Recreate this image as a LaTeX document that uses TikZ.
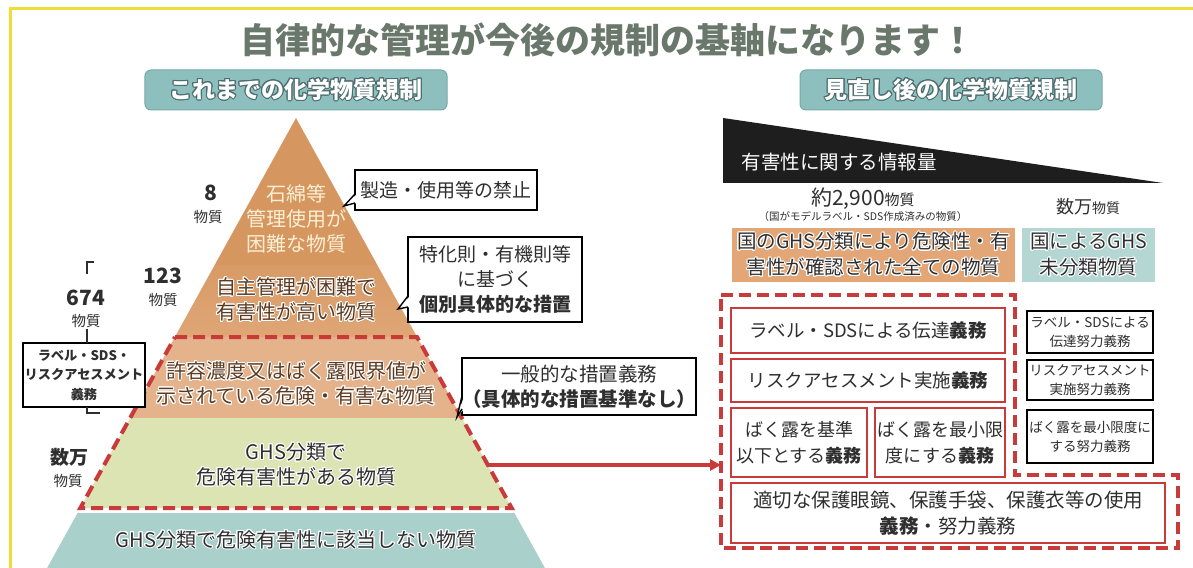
\documentclass[tikz,border=0pt]{standalone}
\usepackage{fontspec}
\setmainfont{Noto Sans CJK JP}
\usepackage[copies]{contour}
\usetikzlibrary{arrows.meta,calc}
\contourlength{1bp}
\contournumber{16}
\newcommand{\halo}[1]{\contour{white}{#1}}
\definecolor{frameyellow}{HTML}{EEDD33}
\definecolor{titlegray}{HTML}{6A786C}
\definecolor{hdrfill}{HTML}{8DBFBE}
\definecolor{hdrdraw}{HTML}{76A9A8}
\definecolor{hdrline}{HTML}{4E6E6E}
\definecolor{tA}{HTML}{D5965F}
\definecolor{tB}{HTML}{DFA676}
\definecolor{tC}{HTML}{E4B38C}
\definecolor{tD}{HTML}{DCE4B3}
\definecolor{tE}{HTML}{A9D0CB}
\definecolor{creamtext}{HTML}{FBF0D5}
\definecolor{browntext}{HTML}{5B3A22}
\definecolor{redc}{HTML}{C93A3B}
\definecolor{wedgec}{HTML}{1E1E1E}
\definecolor{orangebox}{HTML}{E3A677}
\definecolor{tealbox}{HTML}{B4D7D3}
\definecolor{darktext}{HTML}{2E2E2E}
\begin{document}
\begin{tikzpicture}[x=1bp,y=-1bp,
  every node/.style={inner sep=0pt, outer sep=0pt, text=darktext},
  hdr/.style={draw=hdrdraw, line width=1bp, fill=hdrfill, rounded corners=6bp,
    minimum height=40bp, text=white, font=\fontsize{23bp}{28bp}\selectfont\bfseries},
  tiertext/.style={align=center, font=\fontsize{20bp}{25bp}\selectfont},
  numbig/.style={font=\fontsize{21bp}{24bp}\selectfont\bfseries, text=darktext},
  numsmall/.style={font=\fontsize{14.5bp}{17bp}\selectfont, text=darktext},
  callout/.style={draw=black, line width=1.4bp, fill=white, align=center,
    font=\fontsize{19bp}{25bp}\selectfont},
  tailline/.style={draw=black, line width=1.4bp, line join=miter},
  bracketline/.style={draw=darktext, line width=1.3bp},
  reddash/.style={draw=redc, line width=4bp, dash pattern=on 12bp off 6bp},
  redarrow/.style={draw=redc, line width=3.5bp, -{Triangle[length=11bp,width=11bp]}},
  redbox/.style={draw=redc, line width=1.6bp, fill=white, align=center,
    font=\fontsize{18.5bp}{24bp}\selectfont},
  blkbox/.style={draw=black, line width=1.4bp, fill=white, align=center,
    font=\fontsize{13.5bp}{19bp}\selectfont, minimum width=126bp},
  infobox/.style={align=center, font=\fontsize{19.5bp}{26bp}\selectfont}
]
\useasboundingbox (0,0) rectangle (1193,568);
\fill[white] (0,0) rectangle (1193,568);
% yellow frame
\draw[frameyellow, line width=3bp] (10,568) -- (10,9) -- (1193,9);

% title
\node[text=titlegray, font=\fontsize{35bp}{40bp}\selectfont\bfseries] (title) at (608,40)
  {自律的な管理が今後の規制の基軸になります！};

% headers
\node[hdr, minimum width=302bp] (hL) at (296,90) {\contour{hdrline}{これまでの化学物質規制}};
\node[hdr, minimum width=302bp] (hR) at (951,90) {\contour{hdrline}{見直し後の化学物質規制}};

% pyramid
\fill[tA] (296,118) -- (377.3,265) -- (214.7,265) -- cycle;
\shade[top color=tA!70!tB, bottom color=tB] (214.7,265) -- (377.3,265) -- (417.1,337) -- (174.9,337) -- cycle;
\fill[tC] (174.9,337) -- (417.1,337) -- (461.9,418) -- (130.1,418) -- cycle;
\fill[tD] (130.1,418) -- (461.9,418) -- (511.7,508) -- (80.3,508) -- cycle;
\fill[tE] (77.6,513) -- (514.4,513) -- (544.9,568) -- (47.1,568) -- cycle;

\node[tiertext, text=creamtext] (p1) at (296,219) {石綿等\\管理使用が\\困難な物質};
\node[tiertext, text=browntext] (p2) at (296,300) {\halo{自主管理が困難で}\\\halo{有害性が高い物質}};
\node[tiertext, text=browntext] (p3) at (296,384) {\halo{許容濃度又はばく露限界値が}\\\halo{示されている危険・有害な物質}};
\node[tiertext, text=darktext] (p4) at (296,465) {\halo{GHS分類で}\\\halo{危険有害性がある物質}};
\node[tiertext, text=darktext] (p5) at (296,540) {\halo{GHS分類で危険有害性に該当しない物質}};

% dashed frame around tiers 3-4
\draw[reddash] (175,337) -- (417,337) -- (511.7,508) -- (80.3,508) -- cycle;

% left counts
\node[numbig] (n8) at (211,193) {8};
\node[numsmall] (m8) at (208,217) {物質};
\node[numbig] (n123) at (163,276) {123};
\node[numsmall] (m123) at (163,300) {物質};
\node[numbig] (n674) at (86,298) {674};
\node[numsmall] (m674) at (86,321) {物質};
\node[font=\fontsize{19bp}{22bp}\selectfont\bfseries] (nman) at (69,457) {数万};
\node[numsmall] (mman) at (68,481) {物質};

\node[draw=black, line width=1.3bp, fill=white, align=center,
  minimum width=122bp, minimum height=64bp,
  font=\fontsize{13.2bp}{19.5bp}\selectfont\bfseries] (lbox) at (84,375)
  {ラベル・SDS・\\リスクアセスメント\\義務};
\coordinate (brTop) at (87,274);
\draw[bracketline] (brTop) -- ++(0,-12) -- ++(7,0);
\draw[bracketline] ($(m674.south)+(1,1)$) -- ($(lbox.north)+(3,0)$);
\draw[bracketline] ($(lbox.south)+(3,0)$) -- ++(0,6) -- ++(13,0);

% callouts
\node[callout, minimum width=182bp, minimum height=40bp] (c1) at (446,190) {製造・使用等の禁止};
\coordinate (c1tip) at (344,206);
\fill[white] ($(c1.south west)+(2,-16)$) -- (c1tip) -- ($(c1.south west)+(2,-7)$) -- cycle;
\draw[tailline] ($(c1.south west)+(0,-16)$) -- (c1tip) -- ($(c1.south west)+(0,-7)$);

\node[callout, minimum width=174bp, minimum height=85bp] (c2) at (495,279.5)
  {特化則・有機則等\\に基づく\\\textbf{個別具体的な措置}};
\coordinate (c2tip) at (398,309);
\fill[white] ($(c2.south west)+(2,-26)$) -- (c2tip) -- ($(c2.south west)+(2,-15)$) -- cycle;
\draw[tailline] ($(c2.south west)+(0,-26)$) -- (c2tip) -- ($(c2.south west)+(0,-15)$);

\node[callout, minimum width=222bp, minimum height=57bp, font=\fontsize{19.5bp}{25bp}\selectfont] (c3) at (579,386.5)
  {一般的な措置義務\\\textbf{（具体的な措置基準なし）}};
\coordinate (c3tip) at (457,417);
\fill[white] ($(c3.south west)+(2,-19)$) -- (c3tip) -- ($(c3.south west)+(2,-6)$) -- cycle;
\draw[tailline] ($(c3.south west)+(0,-19)$) -- (c3tip) -- ($(c3.south west)+(0,-6)$);

% right side: wedge
\fill[wedgec] (723,118) -- (1163,183) -- (723,183) -- cycle;
\node[text=white, font=\fontsize{19.5bp}{24bp}\selectfont] (wedgetxt) at (839,162) {有害性に関する情報量};

\node[font=\fontsize{21bp}{24bp}\selectfont] (cnt1) at (863,199) {約2,900{\fontsize{15bp}{18bp}\selectfont 物質}};
\node[font=\fontsize{10.5bp}{12bp}\selectfont] (cnt1s) at (863,217) {（国がモデルラベル・SDS作成済みの物質）};
\node[font=\fontsize{18bp}{22bp}\selectfont] (cnt2) at (1088,207) {数万{\fontsize{14bp}{18bp}\selectfont 物質}};

\node[infobox, fill=orangebox, minimum width=283bp, minimum height=54bp] (obox) at (873.5,255)
  {\halo{国のGHS分類により危険性・有}\\\halo{害性が確認された全ての物質}};
\node[infobox, fill=tealbox, minimum width=133bp, minimum height=54bp] (tbox) at (1088.5,255)
  {\halo{国によるGHS}\\\halo{未分類物質}};

% right dashed region
\draw[reddash] (721,295) -- (1015,295) -- (1015,475) -- (1178,475) -- (1178,548) -- (721,548) -- cycle;

\node[redbox, minimum width=274bp, minimum height=45bp] (r1) at (868,330.5) {ラベル・SDSによる伝達\textbf{義務}};
\node[redbox, minimum width=274bp, minimum height=43bp] (r2) at (868,380.5) {リスクアセスメント実施\textbf{義務}};
\node[redbox, minimum width=136bp, minimum height=69bp, font=\fontsize{18bp}{26bp}\selectfont] (r3) at (799,442.5) {ばく露を基準\\以下とする\textbf{義務}};
\node[redbox, minimum width=130bp, minimum height=69bp, font=\fontsize{18bp}{26bp}\selectfont] (r4) at (940,442.5) {ばく露を最小限\\度にする\textbf{義務}};
\node[redbox, minimum width=434bp, minimum height=60bp, font=\fontsize{19.5bp}{26bp}\selectfont] (r5) at (948,513)
  {適切な保護眼鏡、保護手袋、保護衣等の使用\\\textbf{義務}・努力義務};

\node[blkbox, minimum height=42bp] (k1) at (1090,332) {ラベル・SDSによる\\伝達努力義務};
\node[blkbox, minimum height=40bp] (k2) at (1090,380) {リスクアセスメント\\実施努力義務};
\node[blkbox, minimum height=53bp] (k3) at (1090,436.5) {ばく露を最小限度に\\する努力義務};

% arrow from pyramid to new regulation area
\coordinate (aS) at (488,465);
\coordinate (aE) at (721,465);
\draw[redarrow] (aS) -- (aE);
\end{tikzpicture}
\end{document}
